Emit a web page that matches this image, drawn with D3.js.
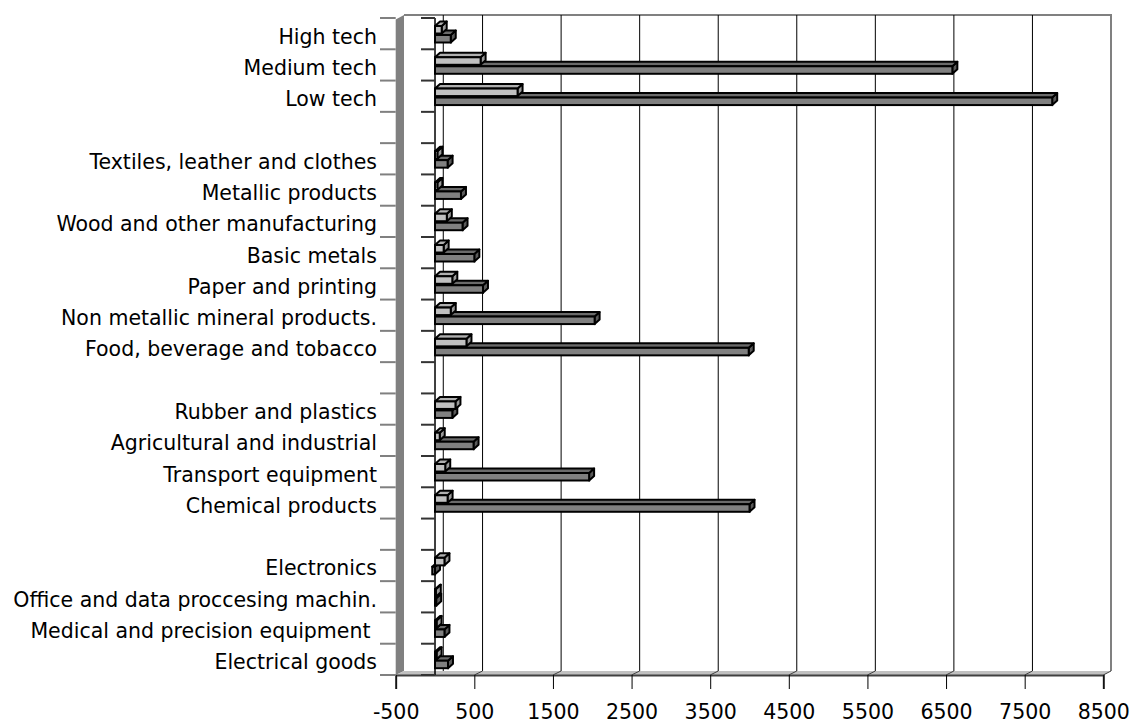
<!DOCTYPE html>
<html>
<head>
<meta charset="utf-8">
<script src="https://cdn.jsdelivr.net/npm/d3@7"></script>
<style>
  html, body { margin: 0; padding: 0; background: #fff; }
  svg { display: block; font-family: "DejaVu Sans", sans-serif; }
</style>
</head>
<body>
<svg id="chart" width="1135" height="724"></svg>
<script>
// Category rows, top to bottom; empty strings are spacer rows between groups
const categories = [
  "High tech", "Medium tech", "Low tech", "",
  "Textiles, leather and clothes", "Metallic products", "Wood and other manufacturing",
  "Basic metals", "Paper and printing", "Non metallic mineral products.",
  "Food, beverage and tobacco", "",
  "Rubber and plastics", "Agricultural and industrial", "Transport equipment",
  "Chemical products", "",
  "Electronics", "Office and data proccesing machin.", "Medical and precision equipment ",
  "Electrical goods"
];

// Light series (upper bar in each row)
const seriesLight = [
  85, 580, 1050, null,
  30, 30, 150, 110, 220, 200, 400, null,
  260, 60, 130, 160, null,
  120, 10, 20, 20
];

// Dark series (lower bar in each row)
const seriesDark = [
  200, 6580, 7850, null,
  160, 330, 350, 500, 610, 2030, 3990, null,
  220, 490, 1960, 4000, null,
  -35, 15, 120, 165
];

const xTicks = [-500, 500, 1500, 2500, 3500, 4500, 5500, 6500, 7500, 8500];
const gridValues = [0, 500, 1500, 2500, 3500, 4500, 5500, 6500, 7500];

const svg = d3.select("#chart");

// Front plane and back plane of the 3D box
const xF = d3.scaleLinear().domain([-500, 8500]).range([395.7, 1103.3]);
const xB = d3.scaleLinear().domain([-500, 8500]).range([404, 1111]);
const backTop = 15, backBottom = 671, frontTop = 19.5, frontBottom = 675;

const y = d3.scaleBand()
  .domain(d3.range(categories.length))
  .range([18, 675])
  .padding(0);

// Left wall
svg.append("polygon")
  .attr("points", [[xF(-500), frontTop], [xB(-500), backTop], [xB(-500), backBottom], [xF(-500), frontBottom]].join(" "))
  .attr("fill", "#808080");

// Floor
svg.append("polygon")
  .attr("points", [[xF(-500), frontBottom], [xB(-500), backBottom], [xB(8500), backBottom], [xF(8500), frontBottom]].join(" "))
  .attr("fill", "#c0c0c0");

// Back wall frame (top and right)
svg.append("path")
  .attr("d", `M${xB(-500)},${backTop}H${xB(8500)}V${backBottom}`)
  .attr("fill", "none")
  .attr("stroke", "#808080")
  .attr("stroke-width", 2);

// Vertical gridlines on the back wall, continued across the floor
const grid = svg.append("g");
grid.selectAll("line.g")
  .data(gridValues)
  .join("line")
  .attr("class", "g")
  .attr("x1", d => xB(d)).attr("x2", d => xB(d))
  .attr("y1", backTop).attr("y2", backBottom)
  .attr("stroke", "#000")
  .attr("stroke-width", 1);
grid.selectAll("line.f")
  .data(xTicks.slice(1))
  .join("line")
  .attr("class", "f")
  .attr("x1", d => xB(d)).attr("x2", d => xF(d))
  .attr("y1", backBottom).attr("y2", frontBottom)
  .attr("stroke", "#404040")
  .attr("stroke-width", 1);

// Value axis along the front edge of the floor
const xAxis = d3.axisBottom(xF).tickValues(xTicks).tickSize(14).tickPadding(15).tickFormat(d => String(d));
const gx = svg.append("g")
  .attr("transform", `translate(0,${frontBottom})`)
  .call(xAxis);
gx.select(".domain").attr("stroke", "#404040").attr("stroke-width", 2);
gx.selectAll(".tick line").attr("stroke", "#000").attr("stroke-width", 1);
gx.selectAll(".tick text")
  .attr("fill", "#000")
  .style("font-size", "20.5px")
  .style("font-family", "'DejaVu Sans', sans-serif");

// Category boundaries: ticks outside the wall and at the zero line
const bounds = d3.range(categories.length + 1).map(i => 18 + i * y.bandwidth());
svg.selectAll("line.outer")
  .data(bounds)
  .join("line")
  .attr("class", "outer")
  .attr("x1", 380).attr("x2", xF(-500))
  .attr("y1", d => d).attr("y2", d => d)
  .attr("stroke", "#808080").attr("stroke-width", 2);

// Zero line (category axis) on the front plane
svg.append("line")
  .attr("x1", xF(0)).attr("x2", xF(0))
  .attr("y1", 18).attr("y2", frontBottom)
  .attr("stroke", "#000").attr("stroke-width", 1.5);
svg.selectAll("line.inner")
  .data(bounds)
  .join("line")
  .attr("class", "inner")
  .attr("x1", xF(0) - 14).attr("x2", xF(0))
  .attr("y1", d => d).attr("y2", d => d)
  .attr("stroke", "#333").attr("stroke-width", 2);

// Category labels
svg.append("g")
  .selectAll("text")
  .data(categories)
  .join("text")
  .attr("x", 377)
  .attr("y", (d, i) => y(i) + y.bandwidth() / 2 + 2.5)
  .attr("dy", "0.36em")
  .attr("text-anchor", "end")
  .attr("fill", "#000")
  .style("font-size", "20.5px")
  .style("white-space", "pre")
  .text(d => d);

// 3D bars
const dx = 5, dz = 4.5, barH = 7.5, sw = 2;
function bar3d(g, v, yTop, front, top, side) {
  const x0 = xF(Math.min(0, v)), x1 = xF(Math.max(0, v));
  const b = yTop + barH;
  g.append("polygon")
    .attr("points", [[x1, yTop], [x1 + dx, yTop - dz], [x1 + dx, b - dz], [x1, b]].join(" "))
    .attr("fill", side).attr("stroke", "#000").attr("stroke-width", sw).attr("stroke-linejoin", "round");
  g.append("polygon")
    .attr("points", [[x0, yTop], [x0 + dx, yTop - dz], [x1 + dx, yTop - dz], [x1, yTop]].join(" "))
    .attr("fill", top).attr("stroke", "#000").attr("stroke-width", sw).attr("stroke-linejoin", "round");
  g.append("rect")
    .attr("x", x0).attr("y", yTop)
    .attr("width", x1 - x0).attr("height", barH)
    .attr("fill", front).attr("stroke", "#000").attr("stroke-width", sw);
}

const bars = svg.append("g");
categories.forEach((c, i) => {
  if (seriesDark[i] == null) return;
  const s = y(i);
  const g = bars.append("g");
  bar3d(g, seriesDark[i], s + 17, "#808080", "#6a6a6a", "#5a5a5a");
  bar3d(g, seriesLight[i], s + 8, "#c0c0c0", "#b0b0b0", "#9a9a9a");
});
</script>
</body>
</html>
